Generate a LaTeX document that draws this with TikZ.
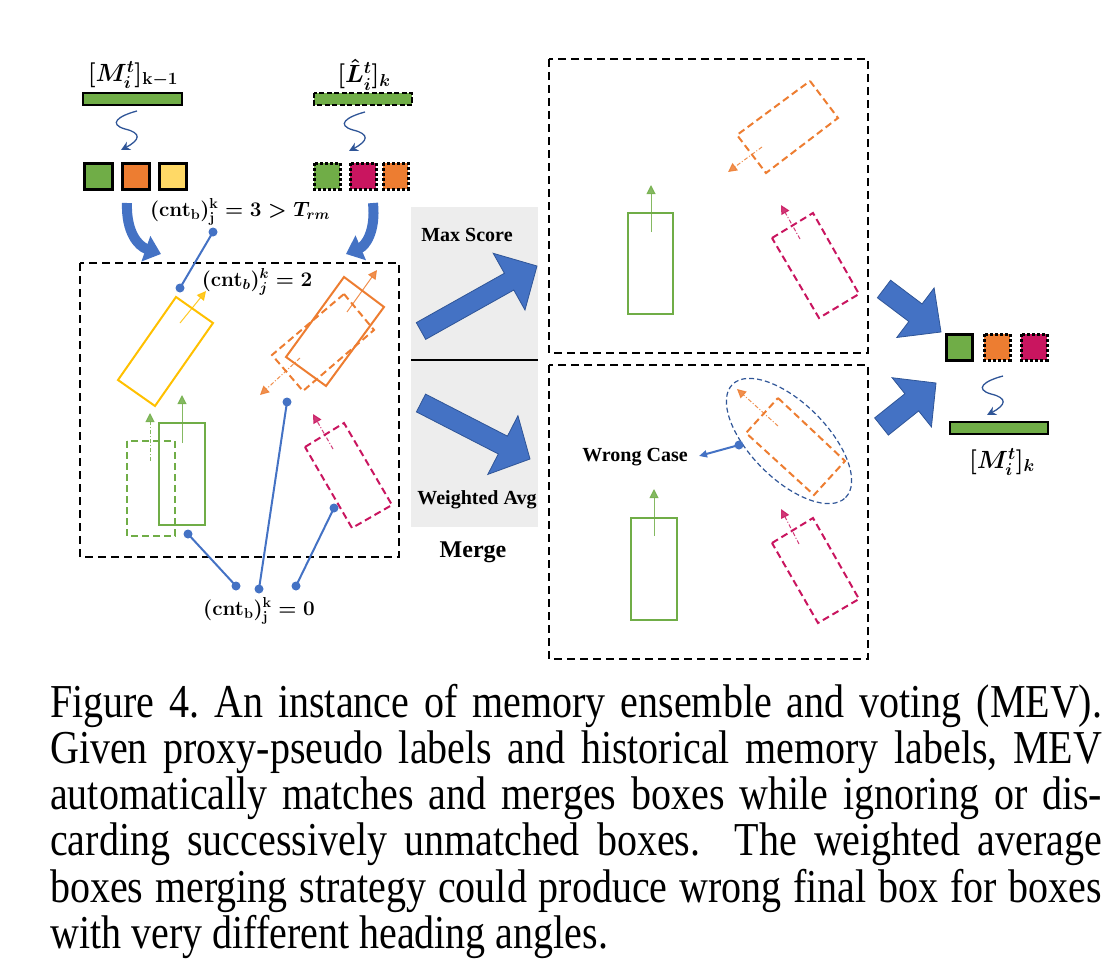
\documentclass[tikz,border=0pt]{standalone}
\usepackage{fontspec}
\setmainfont{Liberation Serif}
\usetikzlibrary{arrows.meta,calc}
\definecolor{gr}{HTML}{70AD47}
\definecolor{orr}{HTML}{ED7D31}
\definecolor{ye}{HTML}{FFD966}
\definecolor{yel}{HTML}{FFC000}
\definecolor{mag}{HTML}{C9155F}
\definecolor{bl}{HTML}{4472C4}
\definecolor{dbl}{HTML}{2F5597}
\definecolor{panel}{HTML}{EDEDED}
\tikzset{
 frame/.style={draw=black, line width=2.2pt, dash pattern=on 8pt off 5pt},
 sqsolid/.style={draw=black, line width=3pt},
 sqdot/.style={draw=black, line width=3pt, dash pattern=on 3pt off 2pt},
 cbox/.style={line width=2pt},
 cdash/.style={line width=2pt, dash pattern=on 7pt off 4pt},
 head/.style={line width=1pt, opacity=.85, -{Triangle[length=9pt,width=9pt]}},
 headd/.style={head, dash pattern=on 4pt off 2pt on 1pt off 2pt},
 conn/.style={draw=bl, line width=2pt},
 dot/.style={circle, fill=bl, inner sep=0pt, minimum size=9pt},
 lbl/.style={font=\fontsize{20}{24}\selectfont\bfseries, inner sep=0pt},
 mlbl/.style={font=\fontsize{21}{24}\selectfont\boldmath, inner sep=0pt},
 blbl/.style={font=\fontsize{27}{30}\selectfont\boldmath, inner sep=0pt},
 squig/.style={draw=dbl, line width=1.3pt, -{Stealth[length=9pt,width=9pt]}},
 curvarrow/.style={draw=bl, line width=10pt, -{Triangle[length=16pt,width=26pt]}},
 bigarrow/.style={fill=bl, draw=dbl, line width=0.8pt},
 squiggle/.pic={\draw[squig] (0,0) .. controls (-19,5) and (-29,13) .. (-12,18) .. controls (5,22) and (3,29) .. (-16,39);}
}
\newcommand{\blockarr}[5]{%
 \coordinate (ba-t) at (#1); \coordinate (ba-h) at (#2);
 \coordinate (ba-b) at ($(ba-h)!#5!(ba-t)$);
 \path[bigarrow] ($(ba-t)!#3!90:(ba-h)$) -- ($(ba-b)!#3!90:(ba-h)$) -- ($(ba-b)!#4!90:(ba-h)$) -- (ba-h)
   -- ($(ba-b)!#4!-90:(ba-h)$) -- ($(ba-b)!#3!-90:(ba-h)$) -- ($(ba-t)!#3!-90:(ba-h)$) -- cycle;}
\frenchspacing
\begin{document}
\begin{tikzpicture}[x=1pt,y=-1pt]
\useasboundingbox (0,0) rectangle (1112,974);
% ---------- top-left inputs
\node[blbl] (lM) at (133,75) {$[M_i^t]_{\mathbf{k-1}}$};
\node[blbl] (lL) at (364,75) {$[\hat{L}_i^t]_k$};
\filldraw[fill=gr, draw=black, line width=2pt] (83,93) rectangle (182,105);
\filldraw[fill=gr, draw=black, line width=2pt, dash pattern=on 5pt off 2.5pt] (314,93) rectangle (412,105);
\pic at (137,111) {squiggle};
\pic at (365,112) {squiggle};
\filldraw[fill=gr, sqsolid] (84,163) rectangle (112,189);
\filldraw[fill=orr, sqsolid] (122,163) rectangle (149,189);
\filldraw[fill=ye, sqsolid] (159,163) rectangle (186,189);
\filldraw[fill=gr, sqdot] (314,163) rectangle (340,189);
\filldraw[fill=mag, sqdot] (350,163) rectangle (376,189);
\filldraw[fill=orr, sqdot] (383,163) rectangle (408,189);
% curved arrows
\draw[curvarrow] (127,203) .. controls (126,232) and (138,246) .. (161,254);
\draw[curvarrow] (373,203) .. controls (376,232) and (365,246) .. (346,254);
% ---------- left frame
\draw[frame] (80,263) rectangle (399,557);
\node[mlbl] (c3) at (240,212) {$(\mathbf{cnt}_\mathbf{b})_\mathbf{j}^\mathbf{k} = 3 > T_{rm}$};
\node[mlbl] (c2) at (257,282) {$(\mathbf{cnt}_b)_j^k = 2$};
\node[mlbl] (c0) at (259,611) {$(\mathbf{cnt}_\mathbf{b})_\mathbf{j}^\mathbf{k} = 0$};
% boxes
\draw[yel, cbox] (176,297)--(213,323)--(155,406)--(118,380)--cycle;
\draw[yel, head] (180,323) -- (206,291);
\draw[orr, cbox] (344,277)--(384,307)--(326,386)--(286,357)--cycle;
\draw[orr, head] (347,312) -- (377,270);
\draw[orr, cdash] (344,294)--(374,330)--(303,391)--(272,355)--cycle;
\draw[orr, headd] (300,358) -- (260,395);
\draw[gr, cdash] (127,441) rectangle (175,536);
\draw[gr, headd] (150,461) -- (150,413);
\draw[gr, cbox] (159,423) rectangle (205,525);
\draw[gr, head] (182,443) -- (182,395);
\draw[mag, cdash] (305,447)--(344,423)--(392,505)--(352,528)--cycle;
\draw[mag, headd] (333,449) -- (313,414);
% connectors
\node[dot] (d1) at (213,232) {};
\node[dot] (d2) at (180,288) {};
\draw[conn] (d1.center) -- (d2.center);
\node[dot] (d3) at (188,534) {};
\node[dot] (d4) at (236,586) {};
\draw[conn] (d3.center) -- (d4.center);
\node[dot] (d5) at (287,402) {};
\node[dot] (d6) at (259,589) {};
\draw[conn] (d5.center) -- (d6.center);
\node[dot] (d7) at (334,508) {};
\node[dot] (d8) at (296,586) {};
\draw[conn] (d7.center) -- (d8.center);
% ---------- middle panel
\fill[panel] (411,207) rectangle (538,527);
\draw[black, line width=1.5pt] (411,360) -- (538,360);
\node[lbl] (ms) at (467,235) {Max Score};
\node[lbl] (wa) at (477,500) {Weighted Avg};
\node[lbl, font=\fontsize{24}{28}\selectfont\bfseries] (mg) at (473,552) {Merge};
\blockarr{421,331}{537,266}{9.6pt}{32.5pt}{32pt}
\blockarr{421,403}{530,459}{10pt}{33pt}{30.5pt}
% ---------- top-right frame
\draw[frame] (549,59) rectangle (868,353);
\draw[gr, cbox] (628,213) rectangle (673,314);
\draw[gr, head] (651,232) -- (651,185);
\draw[orr, cdash] (810,81)--(838,118)--(766,173)--(737,135)--cycle;
\draw[orr, headd] (762,147) -- (728,172);
\draw[mag, cdash] (772,238)--(813,213)--(859,294)--(819,318)--cycle;
\draw[mag, headd] (800,239) -- (781,205);
% ---------- bottom-right frame
\draw[frame] (549,365) rectangle (868,659);
\draw[gr, cbox] (631,518) rectangle (677,620);
\draw[gr, head] (654,536) -- (654,489);
\draw[orr, cdash] (778,398)--(845,461)--(814,495)--(746,433)--cycle;
\draw[orr, headd] (778,426) -- (737,389);
\draw[mag, cdash] (772,543)--(813,518)--(859,599)--(818,623)--cycle;
\draw[mag, headd] (799,544) -- (781,509);
\draw[dbl, line width=1.2pt, dash pattern=on 5pt off 3pt, rotate around={-45:(789,441)}] (789,441) ellipse [x radius=80pt, y radius=38pt];
\node[dot] (d9) at (739,445) {};
\node[lbl] (wc) at (635,457) {Wrong Case};
\coordinate (wct) at (699,456);
\draw[conn, -{Triangle[length=8pt,width=7pt]}] (d9.center) -- (wct);
% ---------- output
\blockarr{884,289}{941,332}{11pt}{31pt}{32pt}
\blockarr{881.5,426.5}{936,383}{11pt}{31.5pt}{31pt}
\filldraw[fill=gr, sqsolid] (946,334) rectangle (972,360);
\filldraw[fill=orr, sqdot] (984,334) rectangle (1010,360);
\filldraw[fill=mag, sqdot] (1021,334) rectangle (1047,360);
\pic at (1003,376) {squiggle};
\filldraw[fill=gr, draw=black, line width=2pt] (950,422) rectangle (1048,434);
\node[blbl] (rM) at (1002,462) {$[M_i^t]_k$};
% ---------- caption
\node[anchor=base west, inner sep=0pt, yscale=1.18, transform shape, font=\fontsize{40}{39.2}\selectfont] (cap) at (50,717) {\parbox[t]{1052pt}{Figure 4. An instance of memory ensemble and voting (MEV).\linebreak Given proxy-pseudo labels and historical memory labels, MEV\linebreak automatically matches and merges boxes while ignoring or dis-\linebreak carding successively unmatched boxes.\ \ The weighted average\linebreak boxes merging strategy could produce wrong final box for boxes\linebreak with very different heading angles.}};
\end{tikzpicture}
\end{document}
